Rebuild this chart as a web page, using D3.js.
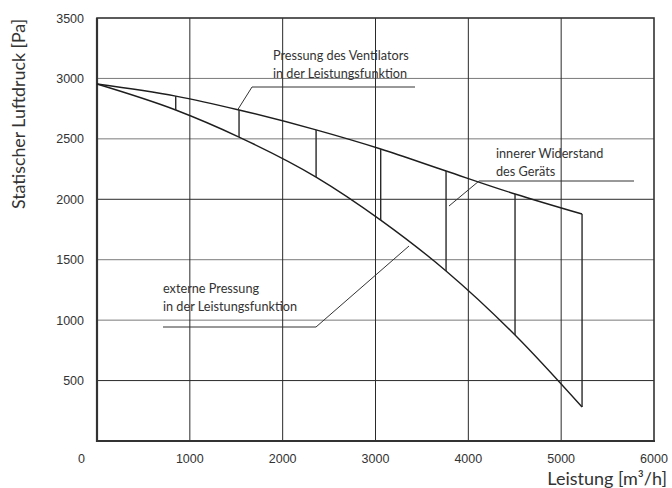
<!DOCTYPE html>
<html><head><meta charset="utf-8">
<script src="https://cdn.jsdelivr.net/npm/d3@7/dist/d3.min.js"></script>
<style>
html,body{margin:0;padding:0;background:#fff;}
svg{display:block;}
</style></head>
<body><svg id="c" width="672" height="488"></svg>
<script>
// ---- data ----
const flow = [0, 848, 1530, 2360, 3056, 3760, 4503, 5225];
const fanPressure = [2954, 2854, 2739, 2574, 2416, 2234, 2044, 1878];
const externalPressure = [2954, 2739, 2515, 2184, 1828, 1407, 877, 281];
const xTicks = [1000, 2000, 3000, 4000, 5000, 6000];
const yTicks = [500, 1000, 1500, 2000, 2500, 3000, 3500];
const xLabel = "Leistung [m³/h]";
const yLabel = "Statischer Luftdruck [Pa]";
const fanLabel = ["Pressung des Ventilators", "in der Leistungsfunktion"];
const resistLabel = ["innerer Widerstand", "des Geräts"];
const extLabel = ["externe Pressung", "in der Leistungsfunktion"];

// ---- layout ----
const svg = d3.select("#c");
const L = 97, R = 654, T = 18, B = 441;
const x = d3.scaleLinear().domain([0, 6000]).range([L, R]);
const y = d3.scaleLinear().domain([0, 3500]).range([B, T]);
const lightY = new Set([1000, 1500, 2500, 3000]);

// gridlines
svg.append("g").selectAll("line").data(yTicks.filter(d => d < 3500)).join("line")
  .attr("x1", L).attr("x2", R).attr("y1", d => y(d)).attr("y2", d => y(d))
  .attr("stroke", d => lightY.has(d) ? "#7a7a7a" : "#2a2a2a").attr("stroke-width", 1);
svg.append("g").selectAll("line").data(xTicks.filter(d => d < 6000)).join("line")
  .attr("x1", d => x(d)).attr("x2", d => x(d)).attr("y1", T).attr("y2", B)
  .attr("stroke", "#2a2a2a").attr("stroke-width", 1);

// frame
svg.append("rect").attr("x", L).attr("y", T).attr("width", R - L).attr("height", B - T)
  .attr("fill", "none").attr("stroke", "#333").attr("stroke-width", 1.6);
svg.append("line").attr("x1", L).attr("x2", L).attr("y1", T).attr("y2", B + 1)
  .attr("stroke", "#333").attr("stroke-width", 2.2);
svg.append("line").attr("x1", L - 1).attr("x2", R + 1).attr("y1", B).attr("y2", B)
  .attr("stroke", "#333").attr("stroke-width", 2.2);

// tick labels
const tickFont = "'Liberation Sans', Arial, sans-serif";
svg.append("g").selectAll("text").data(yTicks).join("text")
  .attr("x", 84).attr("y", d => y(d)).attr("dy", "0.36em")
  .attr("text-anchor", "end").attr("font-family", tickFont).attr("font-size", 12.5)
  .attr("fill", "#333").text(d => d);
svg.append("g").selectAll("text").data(xTicks).join("text")
  .attr("x", d => x(d)).attr("y", 458).attr("dy", "0.36em")
  .attr("text-anchor", "middle").attr("font-family", tickFont).attr("font-size", 12.5)
  .attr("fill", "#333").text(d => d);
svg.append("text").attr("x", 85).attr("y", 458).attr("dy", "0.36em")
  .attr("text-anchor", "end").attr("font-family", tickFont).attr("font-size", 12.5)
  .attr("fill", "#333").text(0);

// axis titles
svg.append("text").attr("x", 667).attr("y", 485).attr("text-anchor", "end")
  .attr("font-family", "Lato, sans-serif").attr("font-size", 18).attr("fill", "#333").text(xLabel);
svg.append("text").attr("transform", "translate(25,114) rotate(-90)").attr("text-anchor", "middle")
  .attr("font-family", "Lato, sans-serif").attr("font-size", 17.8).attr("fill", "#333").text(yLabel);

// curves
const fanPts = flow.map((f, i) => [f, fanPressure[i]]);
const extPts = flow.map((f, i) => [f, externalPressure[i]]);
const line = d3.line().x(d => x(d[0])).y(d => y(d[1])).curve(d3.curveMonotoneX);
svg.append("path").attr("d", line(fanPts)).attr("fill", "none").attr("stroke", "#1e1e1e").attr("stroke-width", 1.4);
svg.append("path").attr("d", line(extPts)).attr("fill", "none").attr("stroke", "#1e1e1e").attr("stroke-width", 1.4);

// resistance verticals
svg.append("g").selectAll("line").data(flow.slice(1)).join("line")
  .attr("x1", d => x(d)).attr("x2", d => x(d))
  .attr("y1", (d, i) => y(fanPressure[i + 1])).attr("y2", (d, i) => y(externalPressure[i + 1]))
  .attr("stroke", "#2a2a2a").attr("stroke-width", 1.4);

// annotations
const annFont = "Lato, 'Open Sans', sans-serif";
function label(lines, px, py) {
  svg.append("g").selectAll("text").data(lines).join("text")
    .attr("x", px).attr("y", (d, i) => py + i * 17.5)
    .attr("font-family", annFont).attr("font-size", 12.7).attr("fill", "#333").text(d => d);
}
function leader(pts) {
  svg.append("path").attr("d", d3.line()(pts)).attr("fill", "none")
    .attr("stroke", "#333").attr("stroke-width", 1);
}
label(fanLabel, 273, 60);
leader([[415, 87], [252, 87], [x(1530) - 1, y(2745)]]);
label(resistLabel, 496, 158);
leader([[634, 181], [479, 181], [449, 206]]);
label(extLabel, 163, 293);
leader([[163, 327], [316, 327], [409, 246]]);
</script></body></html>
